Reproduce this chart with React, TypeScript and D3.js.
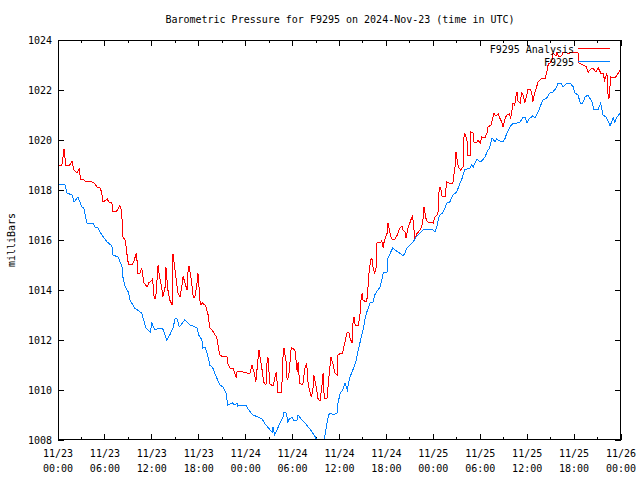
import React from "react";
import * as d3 from "d3";

const title = "Barometric Pressure for F9295 on 2024-Nov-23 (time in UTC)";
const yLabel = "milliBars";
const seriesNames = ["F9295 Analysis", "F9295"];
const yTicks = [1008, 1010, 1012, 1014, 1016, 1018, 1020, 1022, 1024];
const xTickHours = [0, 6, 12, 18, 24, 30, 36, 42, 48, 54, 60, 66, 72];
const xTickDates = ["11/23", "11/23", "11/23", "11/23", "11/24", "11/24", "11/24", "11/24", "11/25", "11/25", "11/25", "11/25", "11/26"];
const xTickTimes = ["00:00", "06:00", "12:00", "18:00", "00:00", "06:00", "12:00", "18:00", "00:00", "06:00", "12:00", "18:00", "00:00"];

const blueHours = [0,0.9,1.15,1.8,2.05,2.56,2.8,3.07,3.3,3.7,4.5,4.7,5.1,5.6,6.3,6.9,7.0,7.7,8.2,8.3,8.6,9.0,9.2,9.8,10.7,11.25,11.8,12.0,12.4,13.0,13.4,13.7,13.9,14.3,14.7,15.0,15.2,15.5,15.9,16.2,16.9,17.3,17.8,18.0,18.4,18.5,18.8,19.2,19.4,19.8,20.3,20.7,21.1,21.5,21.7,22.3,22.6,22.9,23.0,23.5,24.0,24.4,24.9,25.6,26.1,26.5,26.9,27.4,27.5,27.7,28.0,28.4,28.8,28.9,29.2,29.4,29.5,29.9,30.2,30.6,30.7,31.2,31.6,32.0,32.5,32.9,33.2,33.5,33.8,34.0,34.2,34.4,34.6,34.8,35.2,35.7,35.8,36.1,36.4,36.7,37.0,37.2,37.3,37.7,38.1,38.4,38.7,39.0,39.3,39.5,39.9,40.3,40.5,40.9,41.2,41.4,41.6,42.1,42.2,42.5,42.8,43.1,43.5,44.0,44.1,44.4,44.6,45.0,45.4,45.8,46.3,46.7,47.2,47.6,48.0,48.2,48.5,48.7,48.85,49.2,49.5,49.7,50.1,50.5,51.0,51.4,51.7,52.0,52.7,52.9,53.1,53.6,54.0,54.3,54.6,55.0,55.2,55.5,55.9,56.1,56.5,56.9,57.2,57.4,57.8,58.2,58.7,59.1,59.5,59.7,60.0,60.2,60.4,60.7,61.0,61.4,61.6,62.0,62.5,62.9,63.3,63.8,63.9,64.3,64.6,65.1,65.5,65.9,66.1,66.5,66.8,67.1,67.4,67.8,68.0,68.3,68.5,69.1,69.4,69.7,70.1,70.3,70.6,71.0,71.2,71.5,71.8,72.0];
const blueValues = [1018.24,1018.2,1017.88,1017.8,1017.52,1017.72,1017.52,1017.32,1017.28,1016.68,1016.68,1016.52,1016.48,1016.2,1015.92,1015.76,1015.4,1015.32,1014.92,1014.52,1014.12,1013.92,1013.6,1013.28,1013.08,1012.48,1012.32,1012.68,1012.4,1012.48,1012.44,1012.2,1012.0,1012.2,1012.48,1012.88,1012.88,1012.52,1012.68,1012.8,1012.6,1012.56,1012.48,1012.2,1012.0,1011.68,1011.72,1011.32,1011.0,1010.88,1010.48,1010.2,1010.12,1009.88,1009.4,1009.48,1009.4,1009.48,1009.36,1009.4,1009.4,1009.2,1009.0,1008.92,1008.84,1008.64,1008.48,1008.32,1008.52,1008.2,1008.4,1008.68,1008.92,1009.12,1009.08,1008.72,1008.8,1008.92,1008.76,1008.8,1009.0,1008.8,1008.68,1008.52,1008.32,1008.12,1007.92,1007.85,1007.95,1007.85,1008.32,1008.68,1009.0,1009.08,1009.0,1009.08,1009.48,1009.88,1010.0,1010.28,1010.0,1010.32,1010.48,1010.8,1011.12,1011.6,1012.0,1012.4,1012.88,1013.12,1013.48,1013.52,1013.8,1014.0,1014.12,1014.4,1014.68,1014.72,1015.28,1015.48,1015.68,1015.6,1015.52,1015.4,1015.36,1015.48,1015.68,1015.8,1015.92,1016.12,1016.28,1016.4,1016.44,1016.44,1016.4,1016.32,1016.6,1016.92,1017.0,1017.08,1017.28,1017.48,1017.52,1017.8,1017.92,1018.28,1018.48,1018.8,1018.88,1019.0,1018.92,1019.24,1019.12,1019.2,1019.32,1019.6,1019.68,1020.08,1019.92,1020.04,1019.96,1019.92,1020.08,1020.28,1020.52,1020.68,1020.68,1020.72,1020.92,1020.92,1020.68,1020.84,1020.88,1020.96,1020.88,1021.12,1021.28,1021.6,1021.68,1021.88,1021.92,1022.12,1022.28,1022.28,1022.12,1022.28,1022.28,1022.12,1021.88,1021.8,1021.48,1021.48,1021.72,1021.8,1021.68,1021.52,1021.24,1021.24,1021.48,1021.0,1020.92,1020.8,1020.56,1020.88,1020.72,1020.92,1021.04,1021.0];

const redHours = [0,0.5,0.77,1.0,1.5,1.8,1.9,2.05,2.4,2.7,2.9,3.2,3.6,3.8,4.35,4.6,5.0,5.4,5.6,5.75,6.3,6.5,6.9,7.0,7.5,7.9,8.05,8.2,8.3,8.6,8.8,9.0,9.5,9.7,10.0,10.1,10.2,10.5,10.7,11.0,11.4,11.6,12.0,12.1,12.3,12.5,12.8,12.9,13.3,13.4,13.7,13.8,13.9,14.1,14.3,14.6,14.7,14.8,15.1,15.3,15.6,15.9,16.0,16.2,16.5,16.6,16.75,17.0,17.3,17.5,17.8,17.9,18.0,18.2,18.5,18.9,19.2,19.4,19.7,20.1,20.3,20.5,20.7,21.1,21.6,21.7,22.0,22.4,22.8,22.9,23.3,23.7,24.2,24.4,24.55,24.8,25.1,25.3,25.6,25.7,26.1,26.3,26.6,26.7,26.85,27.1,27.5,27.9,28.0,28.1,28.6,28.8,28.9,29.2,29.3,29.5,29.8,29.9,30.3,30.6,30.7,30.9,31.3,31.6,31.8,32.0,32.4,32.6,32.7,33.1,33.2,33.5,33.8,33.9,34.0,34.1,34.4,34.65,34.9,35.2,35.4,35.7,35.8,36.2,36.4,36.6,37.0,37.2,37.3,37.6,37.7,37.85,38.0,38.4,38.6,38.7,38.9,39.0,39.4,39.5,39.6,39.8,40.0,40.15,40.3,40.5,40.7,40.8,41.2,41.4,41.6,41.7,42.1,42.2,42.5,42.7,43.1,43.4,43.5,43.7,44.0,44.1,44.4,44.5,44.8,45.0,45.3,45.4,45.65,45.9,46.0,46.3,46.5,46.7,46.8,47.1,47.3,47.8,48.0,48.2,48.5,48.6,48.7,48.85,49.0,49.1,49.5,49.7,50.0,50.5,50.6,50.8,50.9,51.0,51.2,51.5,51.8,51.9,52.0,52.3,52.4,52.7,52.8,53.1,53.2,53.6,53.7,54.0,54.2,54.6,54.9,55.0,55.4,55.6,55.75,56.0,56.3,56.5,56.8,56.9,57.2,57.4,57.7,57.9,58.2,58.4,58.6,58.7,58.8,59.1,59.3,59.5,59.7,60.0,60.1,60.4,60.6,60.7,61.0,61.4,61.9,62.3,62.5,62.7,62.9,63.2,63.3,63.7,63.8,64.1,64.5,64.6,65.1,65.5,65.9,66.5,66.6,67.1,67.6,67.8,68.0,68.4,68.8,69.1,69.4,69.7,69.9,70.2,70.3,70.45,70.7,71.0,71.3,71.5,71.8,72.0];
const redValues = [1018.96,1019.0,1019.64,1019.0,1019.0,1019.16,1019.0,1018.8,1018.68,1018.84,1018.44,1018.44,1018.32,1018.36,1018.32,1018.28,1018.12,1018.08,1017.88,1017.52,1017.64,1017.52,1017.48,1017.16,1017.16,1017.36,1017.28,1016.8,1016.12,1016.0,1015.48,1015.04,1015.04,1015.12,1015.48,1015.2,1014.68,1014.68,1014.88,1014.28,1014.12,1014.28,1014.4,1014.44,1013.68,1013.68,1015.0,1014.72,1014.0,1013.72,1014.12,1014.92,1014.52,1013.88,1013.6,1013.4,1015.44,1015.2,1014.48,1013.92,1013.72,1014.28,1014.56,1014.32,1014.0,1014.68,1014.96,1014.52,1013.72,1013.72,1014.32,1014.68,1014.28,1013.4,1013.48,1013.36,1013.0,1012.48,1012.4,1012.2,1012.12,1011.72,1011.4,1011.32,1011.36,1011.08,1010.88,1010.88,1010.48,1010.72,1010.76,1010.72,1010.68,1010.64,1010.68,1011.0,1010.68,1010.32,1011.32,1011.6,1010.8,1010.32,1010.2,1011.0,1011.32,1010.24,1010.16,1010.72,1010.4,1009.92,1009.92,1011.52,1011.68,1011.08,1010.4,1010.52,1011.6,1011.68,1011.6,1010.72,1011.12,1010.28,1010.2,1010.92,1011.08,1010.2,1009.72,1010.0,1010.6,1010.0,1009.68,1009.56,1010.28,1010.68,1009.92,1009.68,1009.68,1010.52,1011.32,1011.0,1010.68,1010.6,1011.4,1011.48,1011.48,1011.8,1012.32,1012.32,1012.12,1011.88,1012.6,1012.92,1012.6,1012.6,1012.92,1013.52,1013.88,1013.6,1013.52,1013.6,1013.92,1014.8,1015.2,1015.28,1014.88,1014.68,1014.92,1015.92,1015.88,1015.96,1015.68,1015.92,1016.28,1016.68,1016.2,1016.04,1016.04,1016.2,1016.28,1016.48,1016.56,1016.4,1016.32,1016.08,1016.52,1016.68,1016.96,1016.8,1016.04,1016.28,1016.28,1016.4,1016.52,1016.88,1017.32,1016.8,1016.72,1016.72,1016.68,1016.92,1017.0,1017.12,1017.88,1018.12,1018.0,1017.76,1017.72,1018.32,1018.28,1018.28,1018.52,1019.0,1019.52,1019.28,1018.92,1018.8,1018.92,1020.08,1020.28,1020.0,1019.4,1019.4,1020.32,1020.28,1019.92,1019.92,1020.0,1019.88,1020.12,1020.08,1020.32,1020.52,1020.6,1020.88,1021.08,1020.96,1021.04,1020.88,1020.68,1020.52,1020.88,1021.0,1021.04,1020.88,1021.48,1021.4,1021.8,1021.92,1021.56,1021.48,1021.88,1021.8,1021.48,1021.88,1022.04,1022.04,1021.88,1021.52,1021.92,1022.32,1022.48,1022.48,1022.68,1023.04,1023.08,1023.2,1023.48,1023.36,1023.48,1023.32,1023.4,1023.52,1023.48,1023.48,1023.52,1023.48,1023.08,1023.0,1022.92,1022.68,1022.8,1022.88,1022.72,1022.88,1022.68,1022.68,1022.4,1022.68,1021.92,1021.64,1022.52,1022.48,1022.52,1022.6,1022.76,1022.8];

const W = 640;
const H = 480;
const M = { left: 58, right: 621, top: 40, bottom: 440 };
const FONT = "'DejaVu Sans Mono', monospace";
const RED = "#ff0000";
const BLUE = "#0080ff";

export default function App() {
  const x = d3.scaleLinear().domain([0, 72]).range([M.left, M.right]);
  const y = d3.scaleLinear().domain([1008, 1024]).range([M.bottom, M.top]);
  const line = d3
    .line<[number, number]>()
    .x((d) => x(d[0]))
    .y((d) => y(d[1]));
  const red: [number, number][] = redHours.map((h, i) => [h, redValues[i]]);
  const blue: [number, number][] = blueHours.map((h, i) => [h, blueValues[i]]);
  const minorTicks = d3.range(3, 72, 6);

  return (
    <svg
      width={W}
      height={H}
      style={{ position: "absolute", left: 0, top: 0, background: "#fff" }}
      fontFamily={FONT}
      fontSize={10}
    >
      <rect x={0} y={0} width={W} height={H} fill="#fff" />
      <defs>
        <clipPath id="plotclip">
          <rect x={M.left} y={M.top} width={M.right - M.left} height={M.bottom - M.top} />
        </clipPath>
      </defs>
      <text x={(M.left + M.right) / 2 + 0.5} y={23} textAnchor="middle" fill="#000">
        {title}
      </text>
      <text
        transform={`translate(15,${(M.top + M.bottom) / 2}) rotate(-90)`}
        textAnchor="middle"
        fill="#000"
      >
        {yLabel}
      </text>
      {yTicks.map((t) => (
        <g key={"y" + t}>
          <line x1={M.left} x2={M.left + 6} y1={y(t)} y2={y(t)} stroke="#000" shapeRendering="crispEdges" />
          <line x1={M.right - 6} x2={M.right} y1={y(t)} y2={y(t)} stroke="#000" shapeRendering="crispEdges" />
          <text x={M.left - 6} y={y(t) + 4} textAnchor="end" fill="#000">
            {t}
          </text>
        </g>
      ))}
      {xTickHours.map((h, i) => (
        <g key={"x" + h}>
          <line x1={x(h)} x2={x(h)} y1={M.bottom} y2={M.bottom - 6} stroke="#000" shapeRendering="crispEdges" />
          <line x1={x(h)} x2={x(h)} y1={M.top} y2={M.top + 6} stroke="#000" shapeRendering="crispEdges" />
          <text x={x(h)} y={457} textAnchor="middle" fill="#000">
            {xTickDates[i]}
          </text>
          <text x={x(h)} y={472} textAnchor="middle" fill="#000">
            {xTickTimes[i]}
          </text>
        </g>
      ))}
      {minorTicks.map((h) => (
        <g key={"m" + h}>
          <line x1={x(h)} x2={x(h)} y1={M.bottom} y2={M.bottom - 3} stroke="#000" shapeRendering="crispEdges" />
          <line x1={x(h)} x2={x(h)} y1={M.top} y2={M.top + 3} stroke="#000" shapeRendering="crispEdges" />
        </g>
      ))}
      <g clipPath="url(#plotclip)">
        <path d={line(red) || ""} fill="none" stroke={RED} strokeWidth={1} shapeRendering="crispEdges" />
        <path d={line(blue) || ""} fill="none" stroke={BLUE} strokeWidth={1} shapeRendering="crispEdges" />
      </g>
      <text x={574} y={53} textAnchor="end" fill="#000">
        {seriesNames[0]}
      </text>
      <line x1={578} x2={610} y1={48.5} y2={48.5} stroke={RED} />
      <text x={574} y={66} textAnchor="end" fill="#000">
        {seriesNames[1]}
      </text>
      <line x1={578} x2={610} y1={61.5} y2={61.5} stroke={BLUE} />
      <rect
        x={M.left + 0.5}
        y={M.top + 0.5}
        width={M.right - M.left - 1}
        height={M.bottom - M.top - 1}
        fill="none"
        stroke="#000"
        shapeRendering="crispEdges"
      />
    </svg>
  );
}
